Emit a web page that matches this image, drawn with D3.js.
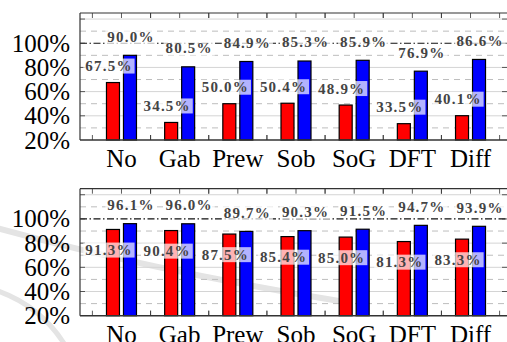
<!DOCTYPE html>
<html>
<head>
<meta charset="utf-8">
<script src="https://cdn.jsdelivr.net/npm/d3@7"></script>
<style>
  html, body { margin: 0; padding: 0; background: #fff; overflow: hidden; }
  svg { display: block; }
</style>
</head>
<body>
<svg id="chart" width="507" height="342"></svg>
<script>
// ─── Data ────────────────────────────────────────────
const categories = ['No', 'Gab', 'Prew', 'Sob', 'SoG', 'DFT', 'Diff'];
const topRed  = [67.5, 34.5, 50.0, 50.4, 48.9, 33.5, 40.1];
const topBlue = [90.0, 80.5, 84.9, 85.3, 85.9, 76.9, 86.6];
const botRed  = [91.3, 90.4, 87.5, 85.4, 85.0, 81.3, 83.3];
const botBlue = [96.1, 96.0, 89.7, 90.3, 91.5, 94.7, 93.9];
const yTicks  = [20, 40, 60, 80, 100];

// pick the first installed serif face (compare widths against fallbacks)
function pickFont(list) {
  const ctx = document.createElement('canvas').getContext('2d');
  const probe = 'mmmWWWiiilll 0123456789%';
  const width = f => { ctx.font = '40px ' + f; return ctx.measureText(probe).width; };
  const mono = width('monospace'), sans = width('sans-serif');
  for (const f of list) {
    const a = width(`"${f}", monospace`), b = width(`"${f}", sans-serif`);
    if (a !== mono || b !== sans) return `"${f}"`;
  }
  return 'serif';
}
const SERIF = pickFont(['Liberation Serif', 'Times New Roman', 'Tinos', 'DejaVu Serif', 'Noto Serif']);

const svg = d3.select('#chart');
const W = 507, H = 342;

svg.append('rect').attr('width', W).attr('height', H).attr('fill', '#fff');

// faint watermark arcs from the scanned page
const wm = svg.append('g').attr('fill', 'none').attr('stroke', '#e4e4e4').attr('stroke-linecap', 'round');
wm.append('path').attr('d', 'M -10 226 Q 140 268 345 302').attr('stroke-width', 6);
wm.append('path').attr('d', 'M -5 290 Q 40 305 65 345').attr('stroke-width', 5);

const x = d3.scaleBand()
  .domain(categories)
  .range([80, 512])
  .paddingInner(0)
  .paddingOuter(0.213);

const barW = 13, barOff = 8.5;

function drawPanel(yTop, yBottom, red, blue, redLabelDy) {
  const y = d3.scaleLinear().domain([20, 125]).range([yBottom, yTop]);
  const g = svg.append('g');
  const x0 = 80, x1 = 513;

  // grid
  [40, 60, 80, 120].forEach(v => {
    g.append('line').attr('x1', x0).attr('x2', x1).attr('y1', y(v)).attr('y2', y(v))
      .attr('stroke', '#d4d4d4').attr('stroke-width', 1);
  });
  [30, 50, 70, 90, 110].forEach(v => {
    g.append('line').attr('x1', x0).attr('x2', x1).attr('y1', y(v)).attr('y2', y(v))
      .attr('stroke', '#bdbdbd').attr('stroke-width', 1).attr('stroke-dasharray', '6,5');
  });
  g.append('line').attr('x1', x0).attr('x2', x1).attr('y1', y(100)).attr('y2', y(100))
    .attr('stroke', '#111').attr('stroke-width', 1.2).attr('stroke-dasharray', '7,2.5,1.5,2.5');

  // ticks
  const step = x.step();
  categories.forEach(c => {
    const cx = x(c) + x.bandwidth() / 2;
    g.append('line').attr('x1', cx).attr('x2', cx).attr('y1', yTop).attr('y2', yTop + 5)
      .attr('stroke', '#333').attr('stroke-width', 0.8);
    [cx - step / 2, cx + step / 2].forEach(bx => {
      g.append('line').attr('x1', bx).attr('x2', bx).attr('y1', yTop).attr('y2', yTop + 5)
        .attr('stroke', '#333').attr('stroke-width', 0.8);
      g.append('line').attr('x1', bx).attr('x2', bx).attr('y1', yBottom).attr('y2', yBottom - 5)
        .attr('stroke', '#333').attr('stroke-width', 0.8);
    });
  });
  [40, 60, 80, 100, 120].forEach(v => {
    g.append('line').attr('x1', x0).attr('x2', x0 + 5).attr('y1', y(v)).attr('y2', y(v))
      .attr('stroke', '#333').attr('stroke-width', 0.8);
    g.append('line').attr('x1', 507).attr('x2', 502).attr('y1', y(v)).attr('y2', y(v))
      .attr('stroke', '#333').attr('stroke-width', 0.8);
  });

  // bars
  g.selectAll('.red').data(red).enter().append('rect')
    .attr('x', (d, i) => x(categories[i]) + x.bandwidth() / 2 - barOff - barW / 2)
    .attr('y', d => y(d))
    .attr('width', barW)
    .attr('height', d => yBottom - y(d))
    .attr('fill', '#ff0000').attr('stroke', '#000').attr('stroke-width', 1.2);
  g.selectAll('.blue').data(blue).enter().append('rect')
    .attr('x', (d, i) => x(categories[i]) + x.bandwidth() / 2 + barOff - barW / 2)
    .attr('y', d => y(d))
    .attr('width', barW)
    .attr('height', d => yBottom - y(d))
    .attr('fill', '#0000ff').attr('stroke', '#000').attr('stroke-width', 1.2);

  // value labels with translucent boxes
  function label(v, cx, cy) {
    const lg = g.append('g');
    const box = lg.append('rect');
    const t = lg.append('text')
      .attr('font-family', SERIF).attr('font-size', 15).attr('font-weight', 'bold')
      .attr('fill', '#444').attr('letter-spacing', 1.2)
      .attr('x', cx).attr('y', cy).attr('text-anchor', 'middle').attr('dominant-baseline', 'central')
      .text(v.toFixed(1) + '%');
    const bb = t.node().getBBox();
    box.attr('x', bb.x - 2).attr('y', cy - 7.5).attr('width', bb.width + 4).attr('height', 15)
      .attr('fill', '#fff').attr('fill-opacity', 0.7);
  }
  blue.forEach((v, i) => {
    const cx = x(categories[i]) + x.bandwidth() / 2 + barOff + 1;
    label(v, cx, y(v) - 18.6);
  });
  red.forEach((v, i) => {
    const cx = x(categories[i]) + x.bandwidth() / 2 - barOff - 4;
    label(v, cx, y(v) + redLabelDy);
  });

  // frame
  g.append('line').attr('x1', x0).attr('x2', x0).attr('y1', yTop).attr('y2', yBottom)
    .attr('stroke', '#333').attr('stroke-width', 1.2);
  g.append('line').attr('x1', x0).attr('x2', x1).attr('y1', yTop).attr('y2', yTop)
    .attr('stroke', '#333').attr('stroke-width', 1.2);
  g.append('line').attr('x1', x0).attr('x2', x1).attr('y1', yBottom).attr('y2', yBottom)
    .attr('stroke', '#333').attr('stroke-width', 1.5);

  // y tick labels
  g.selectAll('.ytl').data(yTicks).enter().append('text')
    .attr('font-family', SERIF).attr('font-size', 25).attr('fill', '#000')
    .attr('x', 70).attr('y', d => y(d))
    .attr('text-anchor', 'end').attr('dominant-baseline', 'central')
    .text(d => d + '%');

  // category labels
  g.selectAll('.xtl').data(categories).enter().append('text')
    .attr('font-family', SERIF).attr('font-size', 25).attr('fill', '#000')
    .attr('x', d => x(d) + x.bandwidth() / 2)
    .attr('y', yBottom + 27)
    .attr('text-anchor', 'middle')
    .text(d => d);
}

drawPanel(13, 140, topRed, topBlue, -16.5);
drawPanel(188.7, 315.7, botRed, botBlue, 20.6);
</script>
</body>
</html>
